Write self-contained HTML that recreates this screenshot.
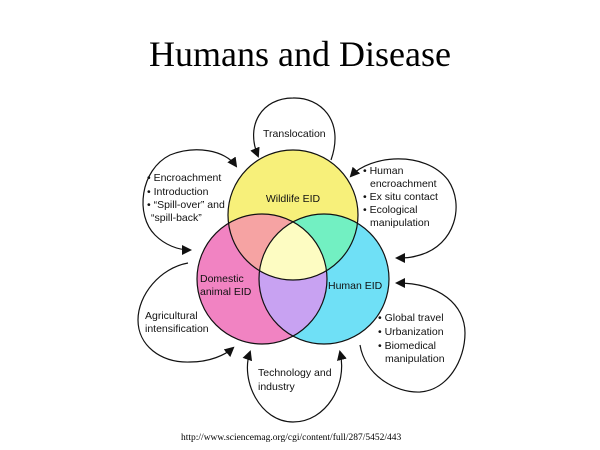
<!DOCTYPE html>
<html><head><style>
html,body{margin:0;padding:0;background:#fff;width:600px;height:450px;overflow:hidden}
svg{display:block}
.t{font-family:"Liberation Sans",Arial,sans-serif;font-size:10.5px;fill:#111}
</style></head><body>
<svg width="600" height="450" viewBox="0 0 600 450">
<defs>
<clipPath id="cw"><circle cx="293" cy="215" r="65"/></clipPath>
<clipPath id="cd"><circle cx="262" cy="279" r="65"/></clipPath>
<clipPath id="ch"><circle cx="324" cy="279" r="65"/></clipPath>
<marker id="ar" viewBox="0 0 10 10" refX="8" refY="5" markerWidth="10" markerHeight="10" orient="auto-start-reverse" markerUnits="userSpaceOnUse"><path d="M0,0 L10,5 L0,10 z" fill="#111"/></marker>
</defs>
<text x="300" y="66" text-anchor="middle" font-family="Liberation Serif,serif" font-size="36" fill="#000">Humans and Disease</text>

<circle cx="293" cy="215" r="65" fill="#f7f07a"/>
<circle cx="262" cy="279" r="65" fill="#f183c2"/>
<circle cx="324" cy="279" r="65" fill="#6fe0f6"/>
<g clip-path="url(#cw)"><circle cx="262" cy="279" r="65" fill="#f6a3a3"/><circle cx="324" cy="279" r="65" fill="#72f0c2"/></g>
<g clip-path="url(#cd)"><circle cx="324" cy="279" r="65" fill="#c8a2f2"/></g>
<g clip-path="url(#cd)"><g clip-path="url(#ch)"><circle cx="293" cy="215" r="65" fill="#fdfcc2"/></g></g>
<g fill="none" stroke="#111" stroke-width="1.2">
<circle cx="293" cy="215" r="65"/><circle cx="262" cy="279" r="65"/><circle cx="324" cy="279" r="65"/>
<path d="M331,160 C345,120 320,97 293,98 C262,98 245,125 258,156" marker-end="url(#ar)"/>
<path d="M236,166 C225,150 195,145 170,155 C140,170 135,215 155,235 C165,245 178,250 190,250" marker-start="url(#ar)" marker-end="url(#ar)"/>
<path d="M351,176 C370,155 425,150 448,180 C465,205 455,245 420,255 C410,258 405,258 397,258" marker-start="url(#ar)" marker-end="url(#ar)"/>
<path d="M188,263 C160,268 138,295 138,320 C138,345 160,363 190,362 C210,362 225,355 233,348" marker-end="url(#ar)"/>
<path d="M250,352 C240,380 260,422 293,422 C326,422 348,385 340,352" marker-start="url(#ar)" marker-end="url(#ar)"/>
<path d="M360,345 C365,375 395,393 420,392 C448,390 465,360 465,333 C465,305 440,283 397,283" marker-end="url(#ar)"/>
</g>
<text class="t" x="263" y="137">Translocation</text>
<text class="t" x="147" y="181">• Encroachment</text>
<text class="t" x="147" y="195">• Introduction</text>
<text class="t" x="147" y="208">• “Spill-over” and</text>
<text class="t" x="151" y="221">“spill-back”</text>
<text class="t" x="363" y="174">• Human</text>
<text class="t" x="370" y="187">encroachment</text>
<text class="t" x="363" y="200">• Ex situ contact</text>
<text class="t" x="363" y="213">• Ecological</text>
<text class="t" x="370" y="226">manipulation</text>
<text class="t" x="293" y="202" text-anchor="middle">Wildlife EID</text>
<text class="t" x="200" y="282">Domestic</text>
<text class="t" x="200" y="295">animal EID</text>
<text class="t" x="328" y="289">Human EID</text>
<text class="t" x="145" y="319">Agricultural</text>
<text class="t" x="145" y="332">intensification</text>
<text class="t" x="378" y="321">• Global travel</text>
<text class="t" x="378" y="335">• Urbanization</text>
<text class="t" x="378" y="349">• Biomedical</text>
<text class="t" x="385" y="362">manipulation</text>
<text class="t" x="258" y="376">Technology and</text>
<text class="t" x="258" y="390">industry</text>
<text x="181" y="440" font-family="Liberation Serif,serif" font-size="9.5" fill="#000">http://www.sciencemag.org/cgi/content/full/287/5452/443</text>
</svg>
</body></html>
